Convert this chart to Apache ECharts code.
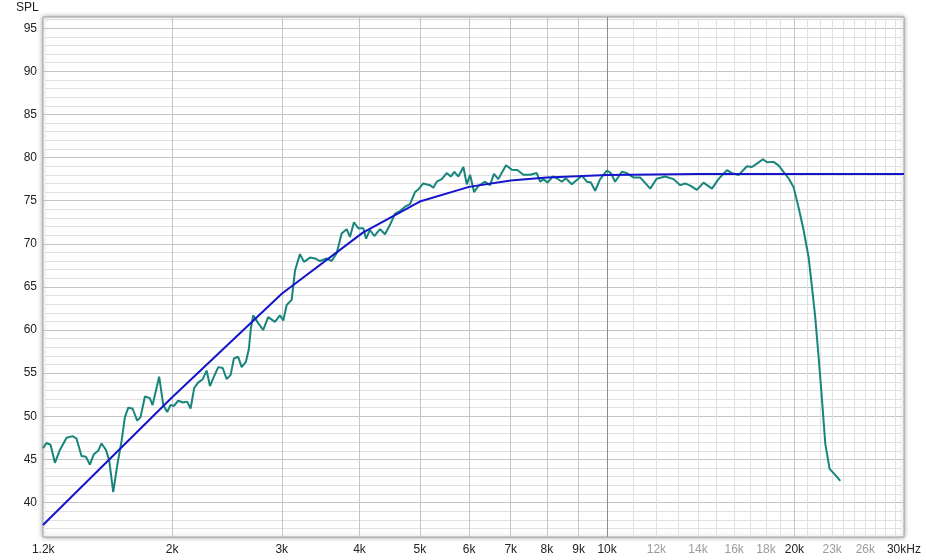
<!DOCTYPE html>
<html>
<head>
<meta charset="utf-8">
<script src="https://cdn.jsdelivr.net/npm/echarts@6/dist/echarts.min.js"></script>
<style>html,body{margin:0;padding:0;background:#fff}#c{width:926px;height:560px}</style>
</head>
<body>
<div id="c"></div>
<script>
// Measured response (Hz, dB SPL)
const measFreq = [1240,1256,1275,1296,1320,1353,1383,1404,1430,1453,1475,1497,1521,1540,1565,1584,1608,1632,1659,1679,1700,1727,1757,1779,1808,1841,1860,1906,1935,1963,1988,2013,2045,2083,2114,2141,2170,2202,2239,2272,2300,2334,2372,2411,2447,2483,2513,2553,2586,2627,2656,2676,2699,2750,2800,2853,2925,2980,3017,3055,3112,3151,3209,3257,3331,3392,3456,3542,3608,3676,3744,3814,3861,3919,3982,4057,4098,4158,4225,4316,4396,4478,4562,4647,4734,4822,4912,4972,5065,5192,5256,5324,5423,5524,5607,5682,5767,5875,5949,6022,6112,6210,6364,6483,6580,6685,6879,7026,7173,7335,7519,7708,7804,7900,8018,8180,8302,8456,8582,8774,8940,9107,9277,9416,9567,9746,9993,10140,10300,10560,10750,11020,11300,11730,12010,12400,12790,13110,13350,13600,13940,14290,14740,15100,15580,15870,16260,16780,17090,17410,17800,18070,18510,18860,19210,19570,19930,20310,20690,21070,21340,21600,21870,22150,22420,22780,23260,23700];
const measSpl = [46.3,46.9,46.7,44.6,46.1,47.5,47.7,47.4,45.4,45.3,44.4,45.6,46.0,46.85,46.1,44.9,41.2,44.3,47.2,49.9,51.0,50.9,49.5,49.9,52.3,52.1,51.3,54.6,51.3,50.5,51.3,51.2,51.8,51.6,51.7,50.9,53.3,53.9,54.3,55.3,53.5,54.6,55.7,55.6,54.3,54.8,56.7,56.9,55.7,56.3,57.8,60.2,61.7,60.8,60.0,61.5,60.95,61.7,61.1,62.9,63.5,66.9,68.8,67.9,68.4,68.3,68.0,68.3,68.0,68.9,71.2,71.7,70.8,72.5,71.8,71.8,70.6,71.6,70.9,71.7,71.1,72.2,73.5,73.8,74.3,74.6,76.0,76.3,77.0,76.8,76.5,77.2,77.5,78.2,77.8,78.35,77.8,78.9,76.9,78.0,76.0,76.7,77.2,76.8,78.1,77.5,79.1,78.6,78.55,78.0,78.0,78.2,77.2,77.5,77.1,77.8,77.6,77.2,77.6,76.9,77.4,77.9,77.2,77.1,76.15,77.5,78.5,78.2,77.2,78.35,78.2,77.7,77.7,76.4,77.55,77.8,77.5,76.8,77.0,76.75,76.25,77.1,76.4,77.5,78.55,78.2,77.97,79.0,78.9,79.3,79.8,79.45,79.5,79.1,78.35,77.6,76.6,74.2,71.6,68.5,65.0,61.5,56.9,51.9,46.8,43.9,43.2,42.5];
// Target curve
const targetFreq = [1240,2000,3000,4050,5000,6000,7000,8000,10000,14000,30000];
const targetSpl = [37.4,52.2,64.2,71.3,74.9,76.6,77.35,77.7,77.97,78.1,78.1];
// Axis ticks
const xLabelVals = [1241,2000,3000,4000,5000,6000,7000,8000,9000,10000,12000,14000,16000,18000,20000,23000,26000,29995];
const xLabelText = ['1.2k','2k','3k','4k','5k','6k','7k','8k','9k','10k','12k','14k','16k','18k','20k','23k','26k','30kHz'];
const xLabelMinor = ['12k','14k','16k','18k','23k','26k'];
const xMajorLines = [2000,3000,4000,5000,6000,7000,8000,9000,20000];
const xMinorLines = [11000,12000,13000,14000,15000,16000,17000,18000,19000,21000,22000,23000,24000,25000,26000,27000,28000,29000];
const xDarkLines = [10000];
const yLabelVals = [40,45,50,55,60,65,70,75,80,85,90,95];
const yMinorLines = [37,38,39,41,42,43,44,46,47,48,49,51,52,53,54,56,57,58,59,61,62,63,64,66,67,68,69,71,72,73,74,76,77,78,79,81,82,83,84,86,87,88,89,91,92,93,94,96];

const zip = (a, b) => a.map((v, i) => [v, b[i]]);
const FONT = 'Liberation Sans, Arial, sans-serif';
const XMIN = 1240, XMAX = 30000, YMIN = 36, YMAX = 96.3;

function hiddenX(vals, color) {
  return {
    type: 'log', logBase: 10, min: XMIN, max: XMAX, gridIndex: 0, position: 'bottom', offset: 0,
    axisLine: {show: false}, axisLabel: {show: false},
    axisTick: {show: false, customValues: vals},
    splitLine: {show: true, lineStyle: {color: color, width: 1}},
    minorTick: {show: false}, minorSplitLine: {show: false}
  };
}

const chart = echarts.init(document.getElementById('c'), null, {renderer: 'canvas'});
chart.setOption({
  animation: false,
  backgroundColor: '#ffffff',
  grid: {
    left: 43, right: 22, top: 17, bottom: 23,
    show: true, backgroundColor: '#ffffff',
    borderColor: '#a0a0a0', borderWidth: 1,
    shadowBlur: 5, shadowColor: 'rgba(0,0,0,0.35)'
  },
  graphic: [{
    type: 'text', left: 16, top: 2,
    style: {text: 'SPL', font: '12px ' + FONT, fill: '#222'}
  }],
  xAxis: [
    hiddenX(xMinorLines, '#e0e0e0'),
    hiddenX(xMajorLines, '#c4c4c4'),
    hiddenX(xDarkLines, '#8c8c8c'),
    {
      type: 'log', logBase: 10, min: XMIN, max: XMAX, gridIndex: 0, position: 'bottom', offset: 0,
      axisLine: {show: false},
      axisTick: {show: false, customValues: xLabelVals},
      splitLine: {show: false},
      axisLabel: {
        show: true, customValues: xLabelVals, margin: 7,
        showMinLabel: true, showMaxLabel: true,
        fontFamily: FONT, fontSize: 12, color: '#222',
        formatter: function (v) {
          let best = 0, bd = Infinity;
          xLabelVals.forEach((x, i) => { const d = Math.abs(Math.log(x) - Math.log(v)); if (d < bd) { bd = d; best = i; } });
          const t = xLabelText[best];
          return xLabelMinor.indexOf(t) >= 0 ? '{m|' + t + '}' : t;
        },
        rich: {m: {color: '#9a9a9a', fontFamily: FONT, fontSize: 12}}
      }
    }
  ],
  yAxis: [
    {
      type: 'value', min: YMIN, max: YMAX, gridIndex: 0, position: 'left', offset: 0,
      axisLine: {show: false}, axisLabel: {show: false},
      axisTick: {show: false, customValues: yMinorLines},
      splitLine: {show: true, lineStyle: {color: '#e0e0e0', width: 1}}
    },
    {
      type: 'value', min: YMIN, max: YMAX, gridIndex: 0, position: 'left', offset: 0,
      axisLine: {show: false},
      axisTick: {show: false, customValues: yLabelVals},
      splitLine: {show: true, lineStyle: {color: '#c4c4c4', width: 1}},
      axisLabel: {
        show: true, customValues: yLabelVals, margin: 6,
        fontFamily: FONT, fontSize: 12, color: '#222'
      }
    }
  ],
  series: [
    {
      type: 'line', name: 'Measured', xAxisIndex: 3, yAxisIndex: 1,
      data: zip(measFreq, measSpl), showSymbol: false, smooth: false,
      lineStyle: {color: '#17857c', width: 2}, z: 3
    },
    {
      type: 'line', name: 'Target', xAxisIndex: 3, yAxisIndex: 1,
      data: zip(targetFreq, targetSpl), showSymbol: false, smooth: false,
      lineStyle: {color: '#1414cc', width: 2}, z: 4
    }
  ]
});
</script>
</body>
</html>
